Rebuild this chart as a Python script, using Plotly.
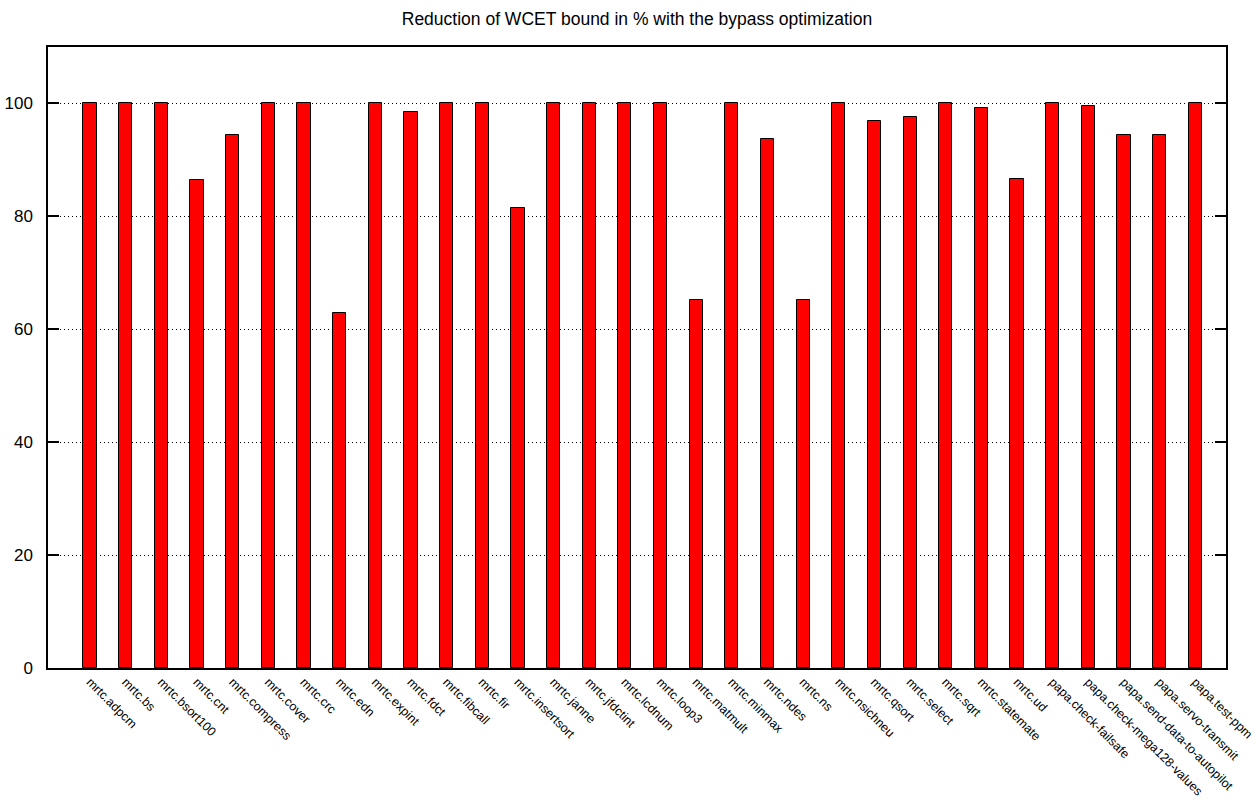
import plotly.graph_objects as go

# Benchmarks (Mälardalen "mrtc" suite and Paparazzi "papa" tasks)
benchmarks = [
    "mrtc.adpcm", "mrtc.bs", "mrtc.bsort100", "mrtc.cnt", "mrtc.compress",
    "mrtc.cover", "mrtc.crc", "mrtc.edn", "mrtc.expint", "mrtc.fdct",
    "mrtc.fibcall", "mrtc.fir", "mrtc.insertsort", "mrtc.janne", "mrtc.jfdctint",
    "mrtc.lcdnum", "mrtc.loop3", "mrtc.matmult", "mrtc.minmax", "mrtc.ndes",
    "mrtc.ns", "mrtc.nsichneu", "mrtc.qsort", "mrtc.select", "mrtc.sqrt",
    "mrtc.statemate", "mrtc.ud", "papa.check-failsafe", "papa.check-mega128-values",
    "papa.send-data-to-autopilot", "papa.servo-transmit", "papa.test-ppm",
]

# Reduction of the WCET bound (%) per benchmark
reduction_pct = [
    100.0, 100.0, 100.0, 86.4, 94.4,
    100.0, 100.0, 62.8, 100.0, 98.5,
    100.0, 100.0, 81.4, 100.0, 100.0,
    100.0, 100.0, 65.1, 100.0, 93.7,
    65.2, 100.0, 96.9, 97.6, 100.0,
    99.2, 86.7, 100.0, 99.6,
    94.5, 94.4, 100.0,
]

y_ticks = [0, 20, 40, 60, 80, 100]

font_family = "Liberation Sans, Arial, Helvetica, sans-serif"

fig = go.Figure(
    go.Bar(
        x=benchmarks,
        y=reduction_pct,
        width=0.37,
        marker=dict(color="#ff0000", line=dict(color="#000000", width=1)),
        showlegend=False,
    )
)

fig.update_layout(
    width=1256,
    height=812,
    margin=dict(l=48, r=30, t=47, b=144),
    paper_bgcolor="white",
    plot_bgcolor="white",
    font=dict(family=font_family, size=14, color="black"),
    title=dict(
        text="Reduction of WCET bound in % with the bypass optimization",
        x=(48 + 1226) / 2 / 1256,
        xanchor="center",
        y=1 - 19 / 812,
        yanchor="middle",
        yref="container",
        font=dict(family=font_family, size=17.5, color="black"),
    ),
    bargap=0,
)

fig.update_xaxes(
    type="category",
    range=[-1.18, 31.86],
    tickangle=45,
    automargin=False,
    showline=True,
    linecolor="black",
    linewidth=1.5,
    mirror=True,
    ticks="",
    showgrid=False,
    tickfont=dict(family=font_family, size=12.5, color="black"),
)

fig.update_yaxes(
    range=[0, 110],
    tickvals=y_ticks,
    automargin=False,
    showline=True,
    linecolor="black",
    linewidth=1.5,
    mirror="ticks",
    ticks="inside",
    ticklen=11,
    tickcolor="black",
    tickwidth=1.5,
    showgrid=True,
    gridcolor="black",
    gridwidth=1,
    griddash="1px,3px",
    zeroline=False,
    ticklabelstandoff=10,
    tickfont=dict(family=font_family, size=17, color="black"),
)

fig.write_html("out.html")
